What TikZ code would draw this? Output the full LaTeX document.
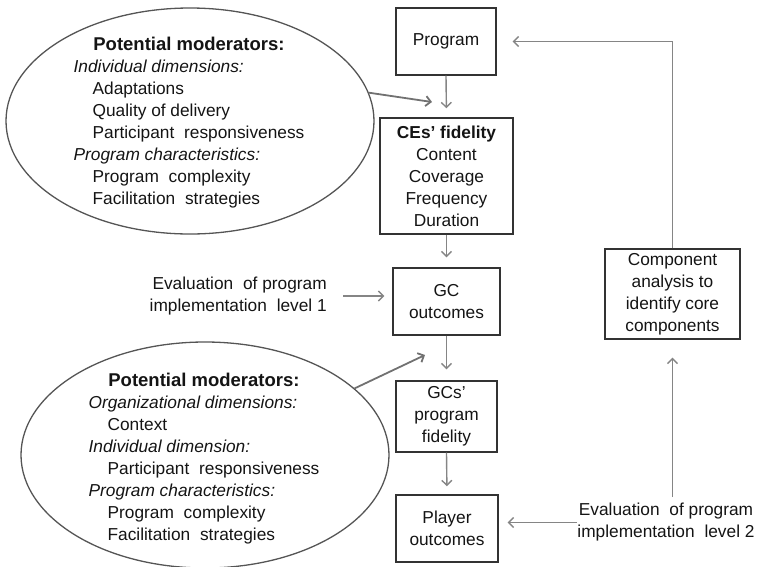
\documentclass[tikz,border=0pt]{standalone}
\usepackage{fontspec}
\setmainfont{Liberation Sans}
\usetikzlibrary{shapes.geometric,arrows.meta}
\definecolor{boxc}{HTML}{333333}
\definecolor{arrc}{HTML}{858585}
\definecolor{ellc}{HTML}{555555}
\definecolor{txtc}{HTML}{141414}
\newcommand\dgfont{\fontsize{17.3}{22}\selectfont}
\newcommand\headfont{\fontsize{18.5}{22}\selectfont\bfseries}
\newcommand\ind{\hspace*{19pt}}
\newcommand\dsp{\hspace{5pt} }
\begin{document}
\begin{tikzpicture}[x=1pt,y=-1pt,
  every node/.style={font=\dgfont, text=txtc},
  box/.style={draw=boxc, line width=1.4pt, inner sep=0pt, align=center},
  moder/.style={draw=ellc, line width=1.3pt, ellipse, inner sep=0pt, minimum width=368pt, minimum height=226pt},
  arr/.style={draw=arrc, line width=1.4pt, -{Straight Barb[length=5pt,width=10pt]}},
  marr/.style={arr, draw=arrc!85!black, line width=1.8pt},
]
\useasboundingbox (0,0) rectangle (764,566);

% boxes
\node[box, minimum width=100pt, minimum height=67pt] (prog) at (446,41.5) {Program};
\node[box, minimum width=133pt, minimum height=116pt] (ces) at (446.5,176) {\textbf{CEs' fidelity}\\Content\\Coverage\\Frequency\\Duration};
\node[box, minimum width=107pt, minimum height=67pt] (gc) at (446.5,301.5) {GC\\outcomes};
\node[box, minimum width=101pt, minimum height=71pt] (gcs) at (446.5,416.5) {GCs'\\program\\fidelity};
\node[box, minimum width=102pt, minimum height=67pt] (pl) at (447,528.5) {Player\\outcomes};
\node[box, minimum width=135pt, minimum height=90pt] (comp) at (672.5,294) {Component\\analysis to\\identify core\\components};

% evaluation labels
\node[align=right, anchor=east, inner sep=0pt] (ev1) at (327,296) {Evaluation\dsp of program\\implementation\dsp level 1};
\node[align=center, inner xsep=0pt, inner ysep=6pt] (ev2) at (666,522.5) {Evaluation\dsp of program\\implementation\dsp level 2};

% moderator ellipses
\node[moder] (m1) at (190,121) {};
\node (m1t) at (189,123.5) {\begin{tabular}{@{}l@{}}
\multicolumn{1}{@{}c@{}}{\headfont Potential moderators:}\\
\textit{Individual dimensions:}\\
\ind Adaptations\\
\ind Quality of delivery\\
\ind Participant\dsp responsiveness\\
\textit{Program characteristics:}\\
\ind Program\dsp complexity\\
\ind Facilitation\dsp strategies
\end{tabular}};

\node[moder] (m2) at (205,455) {};
\node (m2t) at (204,459) {\begin{tabular}{@{}l@{}}
\multicolumn{1}{@{}c@{}}{\headfont Potential moderators:}\\
\textit{Organizational dimensions:}\\
\ind Context\\
\textit{Individual dimension:}\\
\ind Participant\dsp responsiveness\\
\textit{Program characteristics:}\\
\ind Program\dsp complexity\\
\ind Facilitation\dsp strategies
\end{tabular}};

\coordinate (t1) at (432,102);
\coordinate (t2) at (425,355);

% connectors
\draw[arr, shorten >=9pt] (prog.south) -- (ces.north);
\draw[arr, shorten >=10pt] (ces.south) -- (gc.north);
\draw[arr, shorten >=11pt] (gc.south) -- (gcs.north);
\draw[arr, shorten >=8pt] (gcs.south) -- (pl.north);
\draw[arr, shorten <=16pt, shorten >=8pt] (ev1.east) -- (ev1.east -| gc.west);
\draw[arr, shorten >=9pt] (ev2.west) -- (ev2.west -| pl.east);
\draw[arr, shorten >=18pt] (ev2.north -| comp.south) -- (comp.south);
\draw[arr, shorten >=16pt] (comp.north) |- (prog.east);
\draw[marr] (m1.9) -- (t1);
\draw[marr] (m2.24) -- (t2);
\end{tikzpicture}
\end{document}
